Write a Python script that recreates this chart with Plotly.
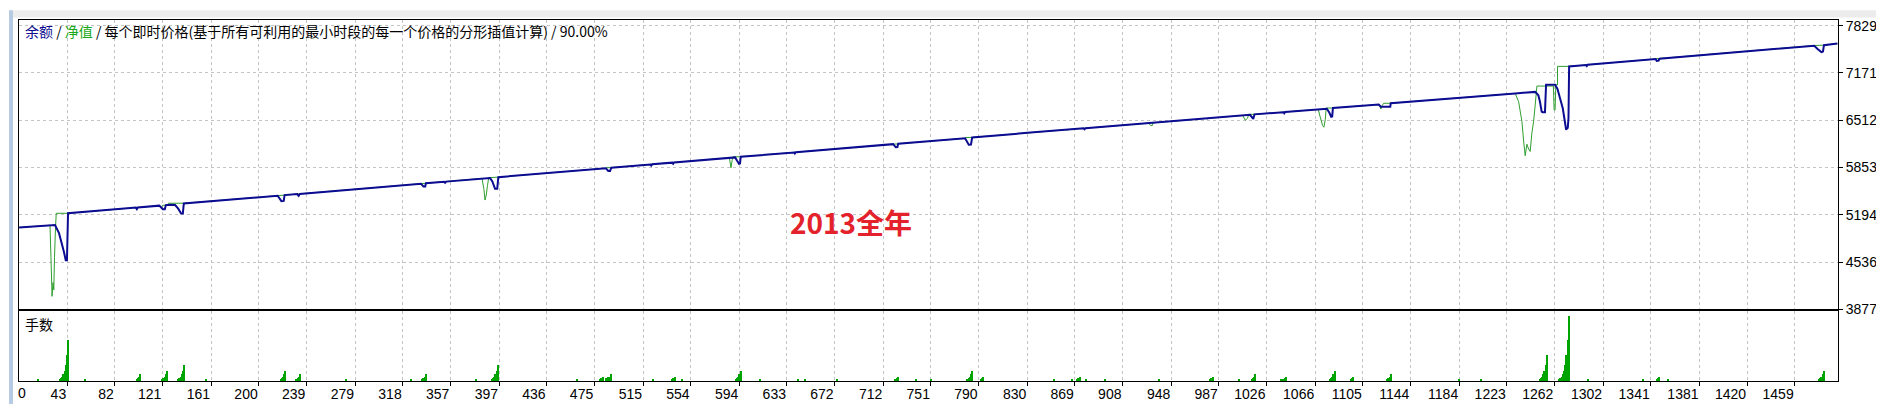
import plotly.graph_objects as go

# ---------------- data ----------------
x_tick_labels = [43, 82, 121, 161, 200, 239, 279, 318, 357, 397, 436, 475, 515, 554,
                 594, 633, 672, 712, 751, 790, 830, 869, 908, 948, 987, 1026, 1066,
                 1105, 1144, 1184, 1223, 1262, 1302, 1341, 1381, 1420, 1459]
y_tick_labels = [3877, 4536, 5194, 5853, 6512, 7171, 7829]

balance_x = [3.6, 33.0, 36.3, 40.4, 41.8, 42.8, 43.7,
             99.3, 100.1, 100.9,
             118.5, 121.4, 123.0, 123.9,
             128.0, 131.5, 134.0, 136.4, 137.8, 138.6,
             215.5, 218.6, 220.5, 221.2,
             231.5, 232.7, 233.7,
             333.0, 335.0, 336.5, 337.0,
             352.0, 352.8, 353.6,
             389.6, 391.5, 393.7, 395.5, 396.4,
             484.5, 486.5, 488.0, 489.0,
             521.0, 521.7, 522.5,
             539.0, 539.7, 540.4,
             590.5, 592.0, 593.7, 594.5, 595.1,
             639.0, 639.5, 640.3,
             720.0, 722.2, 723.5, 724.2,
             779.0, 782.0, 783.8, 784.8,
             830.2,
             876.0, 876.9, 877.7,
             1012.5, 1015.2, 1016.2,
             1040.0, 1040.6, 1041.3,
             1075.5, 1077.5, 1079.1, 1079.9, 1080.5,
             1118.0, 1119.8, 1127.5, 1127.9,
             1229.9, 1246.3,
             1248.9, 1250.2, 1251.6, 1252.4, 1254.3, 1255.2,
             1262.6, 1264.5, 1266.7, 1268.9, 1270.8, 1271.6, 1273.0, 1273.6, 1274.1,
             1288.0, 1288.6, 1289.3,
             1345.0, 1345.9, 1347.5, 1348.2,
             1475.0, 1478.0, 1480.9, 1482.2, 1483.0,
             1494.0]
balance_y = [5018, 5052, 4939, 4674, 4560, 4560, 5216,
             5295, 5274, 5297,
             5322, 5272, 5272, 5330,
             5335, 5330, 5280, 5212, 5212, 5352,
             5461, 5385, 5388, 5469,
             5483, 5460, 5486,
             5628, 5590, 5590, 5634,
             5655, 5640, 5657,
             5708, 5660, 5556, 5556, 5719,
             5844, 5805, 5805, 5851,
             5896, 5880, 5898,
             5921, 5905, 5923,
             5994, 5950, 5904, 5908, 6003,
             6063, 6048, 6066,
             6179, 6135, 6138, 6186,
             6260, 6170, 6172, 6272,
             6336,
             6399, 6386, 6401,
             6587, 6530, 6594,
             6624, 6610, 6626,
             6672, 6620, 6560, 6565, 6682,
             6730, 6700, 6700, 6748,
             6886, 6907,
             6860, 6770, 6633, 6624, 6624, 7006,
             7006, 6952, 6815, 6678, 6473, 6382, 6405, 6542, 7262,
             7282, 7268, 7284,
             7365, 7340, 7344, 7369,
             7550, 7500, 7461, 7470, 7558,
             7580]

equity_x = [3.6, 28.9, 29.7, 30.6, 31.4, 32.0, 32.6, 33.2, 34.0, 43.7,
            99.3, 100.1, 100.9,
            118.0, 119.5, 120.5, 121.0,
            125.5, 126.0, 138.6,
            215.5, 221.2,
            337.0,
            383.0, 384.5, 385.5, 386.5, 387.5, 388.5, 396.4,
            484.5, 485.0, 489.0,
            585.8, 587.1, 588.0, 588.8, 595.1,
            779.0, 779.5, 784.8,
            830.2,
            862.5, 863.0, 863.7,
            929.5, 930.9, 932.5, 933.0,
            977.0, 977.6, 978.3,
            1006.5, 1008.7, 1010.5, 1011.5, 1016.2,
            1068.5, 1070.0, 1072.0, 1073.1, 1074.2, 1075.0, 1080.5,
            1118.5, 1119.8, 1121.0, 1122.0, 1127.9,
            1229.9, 1232.7, 1235.4, 1236.8, 1238.1, 1239.5, 1240.9, 1242.2, 1243.6, 1245.0,
            1246.3, 1247.7,
            1261.2, 1261.8, 1262.6, 1263.2, 1264.6, 1264.6, 1274.1,
            1345.0, 1346.0, 1348.2,
            1475.0, 1483.0,
            1494.0]
equity_y = [5018, 5048, 4600, 4059, 4250, 4150, 4600, 4900, 5216, 5216,
            5295, 5282, 5297,
            5321, 5300, 5300, 5326,
            5333, 5356, 5356,
            5461, 5469,
            5634,
            5702, 5560, 5400, 5470, 5600, 5712, 5719,
            5844, 5851, 5851,
            5989, 5850, 5950, 6003, 6003,
            6260, 6272, 6272,
            6336,
            6380, 6368, 6382,
            6472, 6440, 6440, 6476,
            6537, 6525, 6539,
            6578, 6512, 6540, 6594, 6594,
            6663, 6560, 6440, 6415, 6520, 6682, 6682,
            6731, 6668, 6720, 6748, 6748,
            6886, 6770, 6497, 6223, 6018, 6178, 6110, 6077, 6337, 6497,
            6723, 6988,
            6988, 6655, 6655, 7006, 7006, 7262, 7262,
            7365, 7372, 7372,
            7553, 7558,
            7580]

lots_x = [19,
          37, 38, 39, 40, 41, 42, 43, 44,
          58,
          100, 101, 102, 103,
          121, 122, 123, 124, 125,
          134, 135, 136, 137, 138, 139,
          157,
          218, 219, 220, 221, 222,
          231, 232, 233, 234,
          272, 325,
          334, 335, 336, 337,
          378,
          391, 392, 393, 394, 395, 396,
          461,
          480, 481, 482, 485, 486, 488, 489,
          523, 539, 540, 541, 547,
          591, 592, 593, 594, 595,
          611, 642, 648, 674,
          722, 723, 724,
          739, 751,
          781, 782, 783, 784, 785,
          792, 793, 794,
          852, 867, 871, 872, 873, 878, 894, 938,
          980, 981, 982, 1004,
          1014, 1015, 1016, 1017,
          1038, 1040, 1041, 1042,
          1078, 1079, 1080, 1081, 1082,
          1095, 1096, 1097,
          1125, 1126, 1127, 1128,
          1184, 1202,
          1250, 1251, 1252, 1253, 1254, 1255, 1256,
          1266, 1267, 1268, 1269, 1270, 1271, 1272, 1273, 1274,
          1290, 1335, 1346, 1347, 1348, 1355,
          1479, 1480, 1481, 1482, 1483]
lots_y = [0.1,
          0.1, 0.16, 0.26, 0.42, 0.67, 1.07, 1.71, 2.74,
          0.1,
          0.1, 0.16, 0.26, 0.42,
          0.1, 0.16, 0.26, 0.42, 0.67,
          0.1, 0.16, 0.26, 0.42, 0.67, 1.07,
          0.1,
          0.1, 0.16, 0.26, 0.42, 0.67,
          0.1, 0.16, 0.26, 0.42,
          0.1, 0.1,
          0.1, 0.16, 0.26, 0.42,
          0.1,
          0.1, 0.16, 0.26, 0.42, 0.67, 1.07,
          0.1,
          0.1, 0.16, 0.26, 0.16, 0.26, 0.26, 0.42,
          0.1, 0.1, 0.16, 0.26, 0.1,
          0.1, 0.16, 0.26, 0.42, 0.67,
          0.1, 0.1, 0.1, 0.1,
          0.1, 0.16, 0.26,
          0.1, 0.1,
          0.1, 0.16, 0.26, 0.42, 0.67,
          0.1, 0.16, 0.26,
          0.1, 0.1, 0.1, 0.16, 0.26, 0.1, 0.1, 0.1,
          0.1, 0.16, 0.26, 0.1,
          0.1, 0.16, 0.26, 0.42,
          0.1, 0.1, 0.16, 0.26,
          0.1, 0.16, 0.26, 0.42, 0.67,
          0.1, 0.16, 0.26,
          0.1, 0.16, 0.26, 0.42,
          0.1, 0.1,
          0.1, 0.16, 0.26, 0.42, 0.67, 1.07, 1.71,
          0.1, 0.16, 0.26, 0.42, 0.67, 1.07, 1.71, 2.74, 4.38,
          0.1, 0.1, 0.1, 0.16, 0.26, 0.1,
          0.1, 0.16, 0.26, 0.42, 0.67]

title_parts = ["余额", "净值", "每个即时价格(基于所有可利用的最小时段的每一个价格的分形插值计算)", "90.00%"]
panel_label = "手数"
big_label = "2013全年"

# ---------------- style ----------------
W, H = 1884, 404
ML, MR, MT, MB = 10, 54, 10, 26
PW, PH = W - ML - MR, H - MT - MB

NAVY = "#0c0c92"
GREEN = "#2e9e2e"
BARGREEN = "#00a400"
GRID = "#c4c4c4"
LABEL_FONT = dict(family="Liberation Sans, Arial, sans-serif", size=14, color="#000000")
CJK = "Noto Sans CJK SC"

X_RANGE = [3.5, 1494.5]
Y_RANGE = [3877, 7908.3]
LOT_RANGE = [0, 4.69]


def px_x(px):
    return (px - ML) / PW


def px_y(py):
    return (H - MB - py) / PH


fig = go.Figure()
fig.add_trace(go.Scatter(x=equity_x, y=equity_y, mode="lines", xaxis="x", yaxis="y",
                         line=dict(color=GREEN, width=1, simplify=False), hoverinfo="skip"))
fig.add_trace(go.Scatter(x=balance_x, y=balance_y, mode="lines", xaxis="x", yaxis="y",
                         line=dict(color=NAVY, width=2, simplify=False), hoverinfo="skip"))
fig.add_trace(go.Bar(x=lots_x, y=lots_y, xaxis="x2", yaxis="y2", width=1.0,
                     marker=dict(color=BARGREEN, line=dict(width=0)), hoverinfo="skip"))

common_axis = dict(showline=True, mirror=True, linecolor="#000000", linewidth=1, zeroline=False)

fig.update_layout(
    width=W, height=H, autosize=False,
    margin=dict(l=ML, r=MR, t=MT, b=MB, pad=0),
    paper_bgcolor="#ffffff", plot_bgcolor="#ffffff",
    showlegend=False,
    xaxis=dict(domain=[0, 1], range=X_RANGE, anchor="y", tickvals=x_tick_labels,
               showticklabels=False, ticks="", showgrid=True, gridcolor=GRID,
               griddash="3px,3px", gridwidth=1, **common_axis),
    xaxis2=dict(domain=[0, 1], range=X_RANGE, anchor="y2", tickvals=x_tick_labels,
                ticktext=[str(v) for v in x_tick_labels], ticks="outside", ticklen=4,
                tickcolor="#000000", ticklabelposition="outside left", tickfont=LABEL_FONT,
                showgrid=True, gridcolor=GRID, griddash="3px,3px", gridwidth=1, **common_axis),
    yaxis=dict(domain=[px_y(305), 1], range=Y_RANGE, anchor="x", side="right",
               tickvals=y_tick_labels, ticktext=[str(v) for v in y_tick_labels],
               ticks="outside", ticklen=4, tickcolor="#000000", tickfont=LABEL_FONT,
               showgrid=True, gridcolor=GRID, griddash="3px,3px", gridwidth=1, **common_axis),
    yaxis2=dict(domain=[0, px_y(307)], range=LOT_RANGE, anchor="x2", showticklabels=False,
                ticks="", showgrid=False, **common_axis),
    bargap=0,
)

title_html = (f'<span style="color:{NAVY}">{title_parts[0]}</span> / '
              f'<span style="color:#18a818">{title_parts[1]}</span> / '
              f'{title_parts[2]} / {title_parts[3]}')

annotations = [
    dict(text=title_html, x=px_x(14), y=px_y(21), xref="paper", yref="paper",
         xanchor="left", yanchor="middle", showarrow=False,
         font=dict(family=CJK, size=14, color="#000000")),
    dict(text=panel_label, x=px_x(14), y=px_y(320), xref="paper", yref="paper",
         xanchor="left", yanchor="middle", showarrow=False,
         font=dict(family=CJK, size=14, color="#000000")),
    dict(text=f"<b>{big_label}</b>", x=px_x(842), y=px_y(215.5), xref="paper", yref="paper",
         xanchor="center", yanchor="middle", showarrow=False,
         font=dict(family=CJK, size=28, color="#e3222b")),
    dict(text="0", x=px_x(13), y=px_y(390.5), xref="paper", yref="paper",
         xanchor="center", yanchor="middle", showarrow=False, font=LABEL_FONT),
]
fig.update_layout(annotations=annotations)

shapes = [
    # grey window strip at the top
    dict(type="rect", xref="paper", yref="paper", x0=px_x(0), x1=px_x(W), y0=px_y(0), y1=px_y(7.5),
         fillcolor="#ececec", line=dict(width=0), layer="below"),
    # light blue frame strip at the left
    dict(type="rect", xref="paper", yref="paper", x0=px_x(0), x1=px_x(4), y0=px_y(0), y1=px_y(H),
         fillcolor="#b6cae2", line=dict(width=0), layer="below"),
    # tab outlines at the bottom
    dict(type="path", xref="paper", yref="paper",
         path=f"M {px_x(4)},{px_y(402)} L {px_x(141)},{px_y(402)} L {px_x(141)},{px_y(406)}",
         line=dict(color="#6a6a6a", width=1)),
    dict(type="path", xref="paper", yref="paper",
         path=f"M {px_x(224)},{px_y(406)} L {px_x(224)},{px_y(402)} L {px_x(W)},{px_y(402)}",
         line=dict(color="#6a6a6a", width=1)),
]
fig.update_layout(shapes=shapes)

fig.write_html("out.html", config={"displayModeBar": False})
